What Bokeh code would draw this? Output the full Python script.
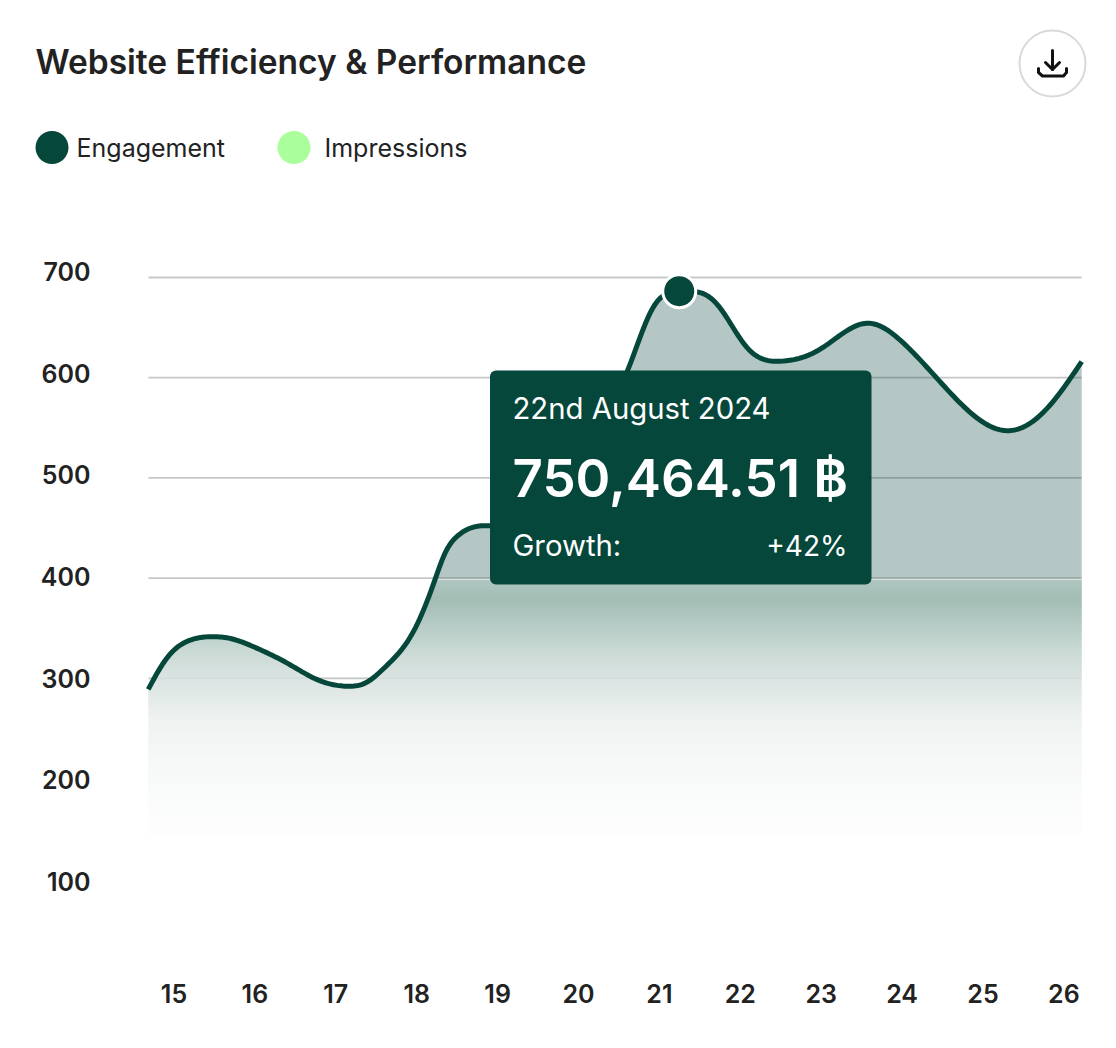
import numpy as np
from bokeh.embed import file_html
from bokeh.resources import INLINE
from bokeh.plotting import figure
from bokeh.models import Range1d, LinearAxis, FixedTicker, Label, BoxAnnotation

days = [14.70,14.82,14.94,15.11,15.27,15.52,15.73,15.99,16.45,16.78,17.17,17.44,17.60,17.77,17.93,18.06,18.16,18.26,18.34,18.47,18.63,18.84,19.30,19.80,20.30,20.65,20.94,21.27,21.73,22.10,22.51,23.01,23.60,24.00,24.61,25.33,25.81,26.25]
engagement = [289,307.1,322.1,334.4,339.7,341.7,339.7,332,313.8,298.8,291.8,297.1,308.8,322.1,338.7,358.7,378.6,400.3,421.8,438.5,448.5,452.5,454,490,555,610.2,671,686.3,675,630,616.2,628,655,638,586,546.6,568,616]
x_ticks = [15,16,17,18,19,20,21,22,23,24,25,26]
y_ticks = [100,200,300,400,500,600,700]
grid_values = [300,400,500,600,700]
peak_day, peak_value = 21.27, 686.3
DARK = "#05473a"; LIGHT = "#aaff9c"; INK = "#222222"; FONT = "Inter"

W, H = 1100, 1032
PX_X = 80.82; PX_Y = 1.002
def dx(px): return 15 + (px - 173) / PX_X
def dy(py): return 700 - (py - 278) / PX_Y

p = figure(width=W, height=H, output_backend="svg", toolbar_location=None,
           x_range=Range1d(dx(1), dx(W + 1)), y_range=Range1d(dy(H + 1), dy(1)),
           x_axis_location=None, y_axis_location=None, tools="",
           min_border=0, min_border_left=0, min_border_right=0, min_border_top=0, min_border_bottom=0,
           outline_line_color=None, background_fill_color="white", border_fill_color="white")
p.grid.visible = False
p.extra_y_ranges = {"labels": Range1d(700 - (H + 1 - 272) / 1.0167, 700 + (272 - 1) / 1.0167)}
p.extra_x_ranges = {"labels": Range1d(15 + (1 - 174.5) / 80.9, 15 + (W + 1 - 174.5) / 80.9)}

xl, xr = dx(149), dx(1082)

def spline(xs, ys, n=500, sigma=0.07):
    xs, ys = np.asarray(xs, float), np.asarray(ys, float)
    h = np.diff(xs); m = len(xs)
    A = np.zeros((m, m)); b = np.zeros(m)
    A[0, 0] = A[-1, -1] = 1
    for i in range(1, m-1):
        A[i, i-1] = h[i-1]; A[i, i] = 2*(h[i-1]+h[i]); A[i, i+1] = h[i]
        b[i] = 6*((ys[i+1]-ys[i])/h[i] - (ys[i]-ys[i-1])/h[i-1])
    M = np.linalg.solve(A, b)
    t = np.linspace(xs[0], xs[-1], n)
    k = np.clip(np.searchsorted(xs, t) - 1, 0, m-2)
    a1 = xs[k+1]-t; a2 = t-xs[k]
    y = (M[k]*a1**3 + M[k+1]*a2**3)/(6*h[k]) + (ys[k]/h[k]-M[k]*h[k]/6)*a1 + (ys[k+1]/h[k]-M[k+1]*h[k]/6)*a2
    # light smoothing so that reading noise does not show as kinks
    dt = t[1]-t[0]; r = int(4*sigma/dt)
    kern = np.exp(-0.5*((np.arange(-r, r+1)*dt)/sigma)**2); kern /= kern.sum()
    pad_l = 2*y[0] - y[1:r+1][::-1]; pad_r = 2*y[-1] - y[-r-1:-1][::-1]
    return t, np.convolve(np.r_[pad_l, y, pad_r], kern, mode="valid")

cx, cy = spline(days, engagement)

p.segment(x0=[xl]*len(grid_values), x1=[xr]*len(grid_values), y0=grid_values, y1=grid_values,
          line_color="#c8c8c8", line_width=1.8)

base = dy(579)
p.varea(x=cx, y1=np.full_like(cy, base), y2=np.maximum(cy, base), fill_color=DARK, fill_alpha=0.3)

stop_py = [579, 590, 600, 620, 650, 680, 720, 760, 800, 836]
stop_rgb = np.array([[176,199,192],[168,193,186],[163,189,181],[177,200,194],[201,217,212],
                     [219,228,226],[238,242,241],[246,248,247],[250,251,251],[254,254,254]], float)
for py in range(580, 836, 2):
    rgb = [int(round(np.interp(py + 1, stop_py, stop_rgb[:, k]))) for k in range(3)]
    up, lo = dy(py), dy(py + 2.6)
    p.varea(x=cx, y1=np.full_like(cy, lo), y2=np.clip(cy, lo, up),
            fill_color="#%02x%02x%02x" % tuple(rgb), fill_alpha=1)
p.segment(x0=[xl], x1=[xr], y0=[300], y1=[300], line_color="#b8c4c0", line_width=1.5, line_alpha=0.2)

p.line(cx, cy, line_color=DARK, line_width=5, line_join="round")
p.scatter([peak_day], [peak_value], size=33, fill_color=DARK, line_color="white", line_width=3)

yaxis = LinearAxis(y_range_name="labels", ticker=FixedTicker(ticks=y_ticks), fixed_location=dx(91))
xaxis = LinearAxis(x_range_name="labels", ticker=FixedTicker(ticks=x_ticks), fixed_location=dy(984))
for ax in (xaxis, yaxis):
    ax.axis_line_color = None
    ax.major_tick_line_color = None
    ax.minor_tick_line_color = None
    ax.major_tick_in = 0; ax.major_tick_out = 0
    ax.major_label_standoff = 0
    ax.major_label_text_font = "Inter SemiBold"
    ax.major_label_text_font_size = "25px"
    ax.major_label_text_color = INK
p.add_layout(yaxis, "left")
p.add_layout(xaxis, "below")

def label(px, py, text, size, font=FONT, color=INK, align="left", level="annotation"):
    p.add_layout(Label(x=px - 1, y=py - 1, x_units="canvas", y_units="canvas", text=text,
                       text_font=font, text_font_size=f"{size}px",
                       text_color=color, text_align=align, text_baseline="middle", level=level))

label(36, 62, "Website Efficiency & Performance", 33.5, font="Inter SemiBold")

p.scatter([dx(52.5), dx(294.5)], [dy(148), dy(148)], size=33, color=[DARK, LIGHT], line_width=0)
label(77, 148, "Engagement", 25)
label(325, 148, "Impressions", 25)

p.scatter([dx(1053)], [dy(64)], size=66, fill_color="white", line_color="#d9d9d9", line_width=2)
icon_x = [[1053, 1053], [1046, 1053, 1060], [1039, 1039, 1043, 1064, 1067, 1067]]
icon_y = [[51, 70], [63, 70, 63], [69, 73, 76.5, 76.5, 73, 69]]
p.multi_line([[dx(v) for v in r] for r in icon_x], [[dy(v) for v in r] for r in icon_y],
             line_color="#111111", line_width=3, line_cap="round", line_join="round")

p.add_layout(BoxAnnotation(left=489.5, right=871, top=370, bottom=584,
                           left_units="canvas", right_units="canvas", top_units="canvas", bottom_units="canvas",
                           fill_color=DARK, fill_alpha=1, line_color=None, border_radius=6, level="overlay"))
label(513, 409, "22nd August 2024", 29.3, color="white", level="overlay")
label(513, 478, "750,464.51 ฿", 52.8, font="Inter SemiBold", color="white", level="overlay")
label(513, 546, "Growth:", 29.3, color="white", level="overlay")
label(848, 546, "+42%", 28, color="white", align="right", level="overlay")

open("out.html", "w").write(file_html(p, INLINE))
